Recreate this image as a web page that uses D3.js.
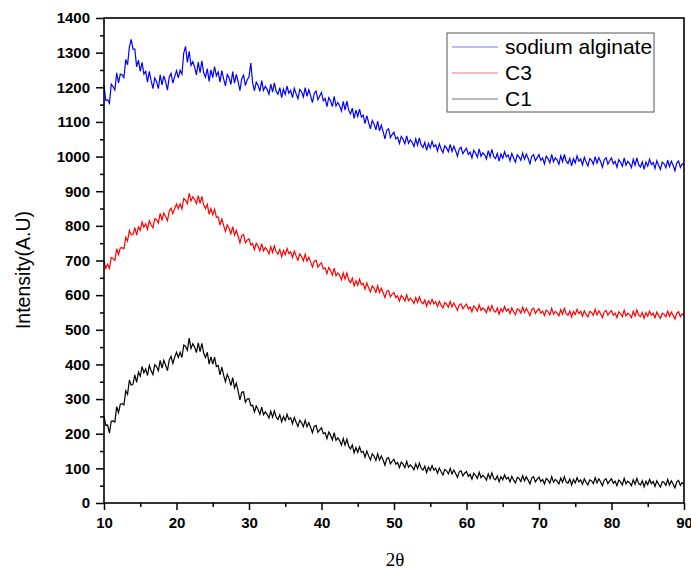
<!DOCTYPE html>
<html>
<head>
<meta charset="utf-8">
<script src="https://cdn.jsdelivr.net/npm/d3@7"></script>
<style>
  html, body { margin: 0; padding: 0; background: #fff; }
  svg { display: block; }
</style>
</head>
<body>
<svg id="chart" width="691" height="569"></svg>
<script>
// ---- data ----
const seriesNames = ["sodium alginate", "C3", "C1"];
const angleStart = 10;   // 2θ of first sample
const angleStep = 0.25;  // sampling step in 2θ
const xTicks = [10, 20, 30, 40, 50, 60, 70, 80, 90];
const yTicks = [0, 100, 200, 300, 400, 500, 600, 700, 800, 900, 1000, 1100, 1200, 1300, 1400];

// one group = one degree (4 samples)
const sodiumAlginate = [
  1205,1162,1164,1154, 1209,1202,1192,1242, 1213,1238,1236,1228, 1280,1265,1316,1338, 1310,1310,1259,1278,
  1246,1272,1238,1246, 1215,1246,1219,1196, 1227,1216,1196,1236, 1207,1233,1216,1192, 1230,1240,1212,1231,
  1248,1227,1249,1238, 1299,1318,1272,1304, 1263,1274,1258,1236, 1273,1242,1276,1242, 1229,1254,1217,1250,
  1228,1260,1233,1244, 1215,1248,1224,1204, 1237,1228,1208,1245, 1212,1237,1216,1190, 1225,1235,1205,1221,
  1230,1270,1213,1190, 1215,1206,1188,1219, 1191,1203,1194,1180, 1209,1186,1213,1188, 1180,1199,1170,1195,
  1179,1203,1183,1191, 1170,1197,1181,1167, 1194,1187,1172,1199, 1174,1193,1175,1156, 1183,1189,1164,1175,
  1185,1161,1168,1144, 1170,1161,1144,1174, 1146,1156,1147,1132, 1159,1134,1160,1134, 1123,1140,1110,1134,
  1116,1137,1114,1120, 1095,1118,1098,1080, 1104,1094,1077,1102, 1074,1091,1072,1051, 1076,1080,1055,1064,
  1070,1051,1056,1038, 1058,1050,1037,1060, 1038,1048,1041,1029, 1051,1033,1054,1033, 1026,1041,1018,1038,
  1025,1044,1028,1034, 1016,1037,1022,1011, 1031,1025,1014,1035, 1015,1030,1017,1001, 1022,1027,1008,1017,
  1024,1006,1013,996,  1018,1010,998,1022,  1001,1011,1005,993,  1017,999,1021,1000,  994,1009,987,1007,
  995,1014,999,1005,   988,1009,995,984,    1005,999,989,1010,   992,1007,995,979,    1001,1006,988,997,
  1006,989,996,979,    1001,994,982,1006,   985,996,990,978,     1002,985,1006,986,   980,995,973,994,
  982,1002,987,993,    976,998,984,973,     994,989,978,1000,    981,997,985,969,     991,997,978,988,
  996,979,986,969,     991,984,972,996,     975,986,980,968,     992,975,996,976,     970,985,963,984,
  972,992,977,983,     966,988,974,963,     984,979,968,990,     971,987,975,959,     981,987,969,979,
  975
];

const c3 = [
  698,677,689,677, 709,706,700,734, 717,736,737,734, 767,756,787,774, 775,795,773,797,
  787,811,796,806, 790,815,803,794, 820,818,808,836, 817,837,827,815, 842,851,835,850,
  863,850,863,849, 879,874,864,894, 872,884,876,864, 887,865,885,860, 850,862,833,850,
  832,848,825,826, 802,820,801,784, 803,793,777,798, 773,787,770,751, 772,775,751,759,
  763,745,749,731, 750,741,728,749, 728,737,730,719, 740,723,742,725, 718,732,711,729,
  717,735,720,725, 709,727,713,701, 719,712,699,718, 698,710,696,681, 698,701,681,688,
  693,676,679,662, 680,671,658,678, 656,664,657,644, 664,646,664,644, 636,649,627,642,
  629,646,630,634, 617,635,621,609, 627,620,608,627, 608,620,607,593, 611,614,595,603,
  607,593,598,583, 599,593,583,601, 584,591,585,576, 593,579,595,580, 575,586,568,584,
  574,588,575,581, 567,582,571,563, 578,574,565,582, 566,577,567,556, 572,575,561,568,
  574,560,566,552, 569,563,554,572, 556,563,558,549, 567,554,570,555, 551,563,545,561,
  552,567,554,560, 547,563,552,544, 560,557,548,565, 550,562,552,541, 558,562,547,555,
  561,548,554,541, 557,552,543,562, 545,553,548,540, 558,545,562,547, 542,554,537,553,
  544,559,547,553, 539,555,545,537, 553,550,542,559, 543,555,546,535, 552,556,542,550,
  555,542,548,535, 552,547,538,557, 540,548,543,535, 553,540,557,542, 538,550,533,549,
  539,554,542,548, 535,551,541,533, 548,545,537,554, 539,551,542,531, 548,552,538,546,
  542
];

const c1 = [
  250,224,225,202, 236,237,234,278, 261,285,287,283, 324,314,355,340, 343,370,348,378,
  366,394,376,387, 368,397,382,371, 399,394,382,412, 389,412,398,382, 413,423,403,421,
  435,420,435,420, 456,452,441,476, 446,460,450,434, 462,437,461,432, 420,435,401,422,
  401,421,394,397, 370,392,369,350, 371,359,339,362, 332,346,323,298, 320,321,291,300,
  301,281,282,263, 280,270,256,277, 255,263,256,245, 265,248,266,248, 241,255,234,250,
  238,256,241,246, 229,247,233,221, 239,232,220,239, 220,232,218,203, 221,224,204,211,
  217,200,203,186, 205,196,182,203, 181,188,180,167, 186,167,184,164, 156,168,145,160,
  146,162,146,149, 132,150,136,124, 142,135,123,142, 124,136,124,109, 128,131,113,121,
  126,112,117,102, 118,112,102,120, 103,110,104,96,  113,99,115,100,  95,106,88,104,
  94,108,95,100,   86,101,90,81,    97,93,84,100,    84,95,85,74,     90,93,78,86,
  91,77,83,69,     86,80,71,89,     73,80,75,66,     84,70,87,71,     67,78,61,76,
  67,81,69,74,     61,77,66,58,     74,71,62,79,     64,76,66,55,     72,76,61,69,
  75,62,68,55,     71,66,57,76,     60,68,63,55,     72,60,76,61,     57,69,52,68,
  58,73,61,67,     54,70,60,52,     67,64,56,73,     58,70,61,50,     66,70,56,64,
  70,57,63,50,     66,61,52,71,     55,63,58,50,     67,54,71,56,     52,64,47,63,
  53,68,56,62,     48,64,54,46,     62,59,51,68,     52,64,55,44,     61,65,51,59,
  55
];

const seriesValues = [sodiumAlginate, c3, c1];
const seriesColors = ["#0000ff", "#ff0000", "#000000"];

// ---- layout ----
const svg = d3.select("#chart");
const plotL = 104, plotR = 684, plotT = 18, plotB = 503;

const x = d3.scaleLinear().domain([10, 90]).range([plotL, plotR]);
const y = d3.scaleLinear().domain([0, 1400]).range([plotB, plotT]);

// series
const line = d3.line()
  .x((d, i) => x(angleStart + i * angleStep))
  .y(d => y(d));

seriesValues.forEach((vals, k) => {
  svg.append("path")
    .datum(vals)
    .attr("fill", "none")
    .attr("stroke", seriesColors[k])
    .attr("stroke-width", 1.2)
    .attr("stroke-linejoin", "miter")
    .attr("d", line);
});

// frame
svg.append("rect")
  .attr("x", plotL).attr("y", plotT)
  .attr("width", plotR - plotL).attr("height", plotB - plotT)
  .attr("fill", "none").attr("stroke", "#000").attr("stroke-width", 1.6);

// y axis
const yAxis = d3.axisLeft(y).tickValues(yTicks).tickSize(8).tickPadding(6).tickFormat(d3.format("d"));
const gy = svg.append("g").attr("transform", `translate(${plotL},0)`).call(yAxis);
gy.select(".domain").remove();
gy.selectAll(".tick line").attr("stroke-width", 1.5);
gy.selectAll("text").attr("font-family", "Liberation Sans, Arial, sans-serif")
  .attr("font-size", 15).attr("font-weight", "bold").attr("fill", "#000");
const yMinor = d3.axisLeft(y).tickValues(yTicks.slice(0, -1).map(t => t + 50)).tickSize(4).tickFormat("");
const gym = svg.append("g").attr("transform", `translate(${plotL},0)`).call(yMinor);
gym.select(".domain").remove();
gym.selectAll(".tick line").attr("stroke-width", 1.5);

// x axis
const xAxis = d3.axisBottom(x).tickValues(xTicks).tickSize(7).tickPadding(7).tickFormat(d3.format("d"));
const gx = svg.append("g").attr("transform", `translate(0,${plotB})`).call(xAxis);
gx.select(".domain").remove();
gx.selectAll(".tick line").attr("stroke-width", 1.5);
gx.selectAll("text").attr("font-family", "Liberation Sans, Arial, sans-serif")
  .attr("font-size", 15).attr("font-weight", "bold").attr("fill", "#000");
const xMinor = d3.axisBottom(x).tickValues(xTicks.slice(0, -1).map(t => t + 5)).tickSize(4).tickFormat("");
const gxm = svg.append("g").attr("transform", `translate(0,${plotB})`).call(xMinor);
gxm.select(".domain").remove();
gxm.selectAll(".tick line").attr("stroke-width", 1.5);

// axis titles
svg.append("text")
  .attr("transform", "translate(30,270) rotate(-90)")
  .attr("text-anchor", "middle")
  .attr("font-family", "Liberation Sans, Arial, sans-serif")
  .attr("font-size", 19.5)
  .text("Intensity(A.U)");

svg.append("text")
  .attr("x", 395).attr("y", 566)
  .attr("text-anchor", "middle")
  .attr("font-family", "Liberation Serif, Times New Roman, serif")
  .attr("font-size", 19)
  .text("2θ");

// legend
const lg = svg.append("g");
lg.append("rect").attr("x", 447).attr("y", 33).attr("width", 207).attr("height", 79)
  .attr("fill", "#fff").attr("stroke", "#555").attr("stroke-width", 1);
const rowY = [47, 73, 99];
seriesNames.forEach((name, k) => {
  lg.append("line").attr("x1", 452).attr("x2", 498).attr("y1", rowY[k]).attr("y2", rowY[k])
    .attr("stroke", seriesColors[k]).attr("stroke-width", 1).attr("stroke-opacity", 0.55);
  lg.append("text").attr("x", 505).attr("y", rowY[k]).attr("dy", "0.35em")
    .attr("font-family", "Liberation Sans, Arial, sans-serif")
    .attr("font-size", 21).text(name);
});
</script>
</body>
</html>
